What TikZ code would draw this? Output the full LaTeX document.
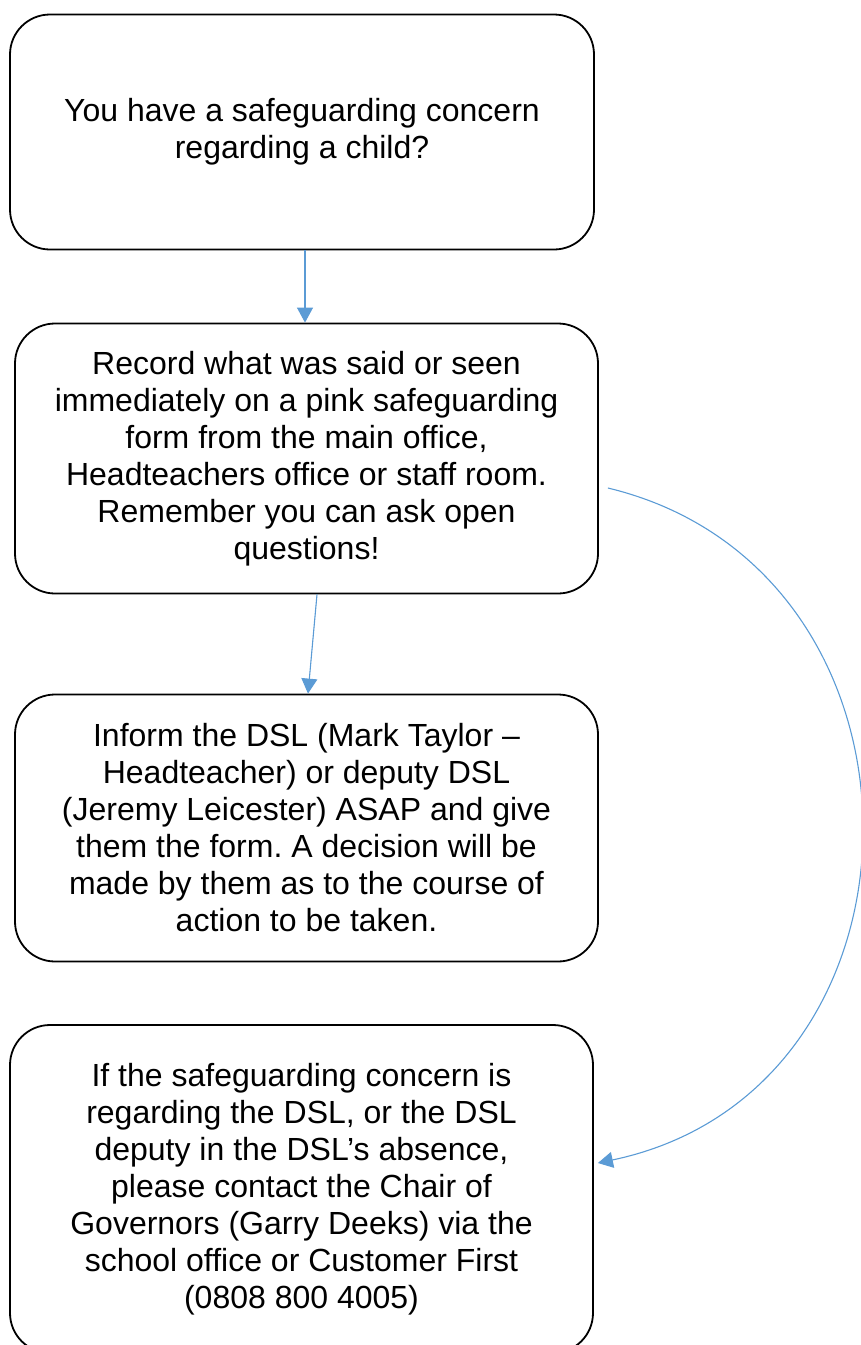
\documentclass[tikz,border=0pt]{standalone}
\usepackage{fontspec}
\setmainfont{Liberation Sans}
\usetikzlibrary{arrows.meta}
\definecolor{flowblue}{HTML}{5B9BD5}
\frenchspacing
\begin{document}
\begin{tikzpicture}[x=0.5pt, y=-0.5pt,
  >={Triangle[width=8pt,length=7.5pt]},
  stepbox/.style={draw, line width=0.9pt, rounded corners=20pt, align=center,
    inner sep=0pt, font=\fontsize{16}{18.5}\selectfont},
  flowarrow/.style={->, draw=flowblue, fill=flowblue, line width=0.55pt}]
\useasboundingbox (0,0) rectangle (861,1345);
\node[stepbox, minimum width=292pt, minimum height=117.5pt] (concern) at (302,132) {You have a safeguarding concern\\regarding a child?};
\node[stepbox, minimum width=291.5pt, minimum height=135pt] (record) at (306.5,458.5) {Record what was said or seen\\immediately on a pink safeguarding\\form from the main office,\\Headteachers office or staff room.\\Remember you can ask open\\questions!};
\node[stepbox, minimum width=291.5pt, minimum height=133.5pt] (inform) at (306.5,828) {Inform the DSL (Mark Taylor –\\Headteacher) or deputy DSL\\(Jeremy Leicester) ASAP and give\\them the form. A decision will be\\made by them as to the course of\\action to be taken.};
\node[stepbox, minimum width=291.5pt, minimum height=164pt] (governors) at (301.5,1189) {If the safeguarding concern is\\regarding the DSL, or the DSL\\deputy in the DSL’s absence,\\please contact the Chair of\\Governors (Garry Deeks) via the\\school office or Customer First\\(0808 800 4005)};
% connectors
\coordinate (loopA) at ([xshift=4.5pt,yshift=-14.75pt]record.east);
\coordinate (loopB) at ([xshift=2pt,yshift=13pt]governors.east);
\draw[flowarrow] ([xshift=1.5pt]concern.south) -- ([xshift=-0.75pt]record.north);
\draw[flowarrow] ([xshift=5.25pt]record.south) -- ([xshift=0.75pt]inform.north);
\draw[flowarrow, fill=none] (loopA) .. controls +(341,82) and +(348,-73) .. (loopB);
\end{tikzpicture}
\end{document}
